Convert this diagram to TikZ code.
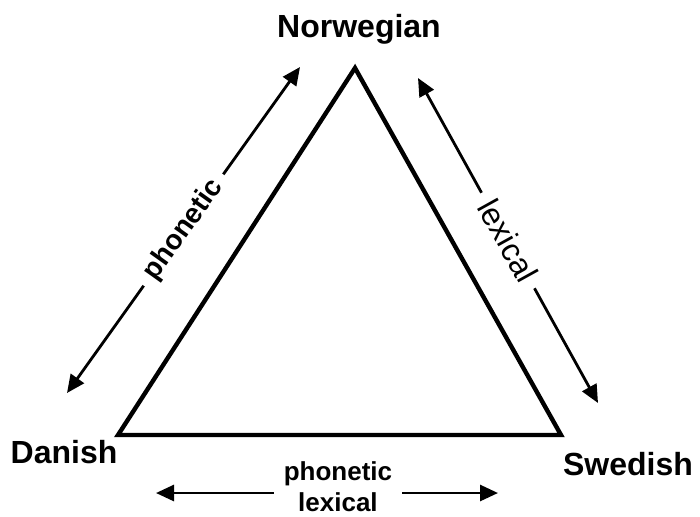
\documentclass[tikz,border=0pt]{standalone}
\usepackage{fontspec}
\setmainfont{Liberation Sans}
\usetikzlibrary{arrows.meta}

\begin{document}
\begin{tikzpicture}[
    x=0.5pt, y=-0.5pt,
    lang/.style={font=\fontsize{16}{19}\selectfont\bfseries, inner sep=0pt, anchor=base},
    side/.style={line width=2.2pt, line join=miter},
    link/.style={{Triangle[length=9pt,width=8pt]}-{Triangle[length=9pt,width=8pt]}, line width=1.4pt},
    tag/.style={fill=white, inner xsep=5pt, inner ysep=1pt, sloped}
]
    \useasboundingbox (0,0) rectangle (700,516);

    % corners of the triangle
    \coordinate (nv) at (355,68);
    \coordinate (dv) at (118,435);
    \coordinate (sv) at (561,435);
    \draw[side] (nv) -- (sv) -- (dv) -- cycle;

    \node[lang] (nor) at (359,37)  {Norwegian};
    \node[lang] (dan) at (64,463)  {Danish};
    \node[lang] (swe) at (628,475) {Swedish};

    % arrow ends
    \coordinate (da) at (67,393);
    \coordinate (na) at (300,67);
    \coordinate (nb) at (418,78);
    \coordinate (sb) at (598,403);
    \coordinate (dc) at (156,493);
    \coordinate (sc) at (498,493);

    \draw[link] (da) -- node[tag, font=\fontsize{14}{16}\selectfont\bfseries] (ph) {phonetic} (na);
    \draw[link] (nb) -- node[tag, font=\fontsize{16}{18}\selectfont] (lx) {lexical} (sb);
    \draw[link] (dc) -- node[pos=0.532, fill=white, inner xsep=5pt, inner ysep=0pt, yshift=3pt, align=center,
        font=\fontsize{13}{15.5}\selectfont\bfseries] (both) {phonetic\\lexical} (sc);
\end{tikzpicture}
\end{document}
